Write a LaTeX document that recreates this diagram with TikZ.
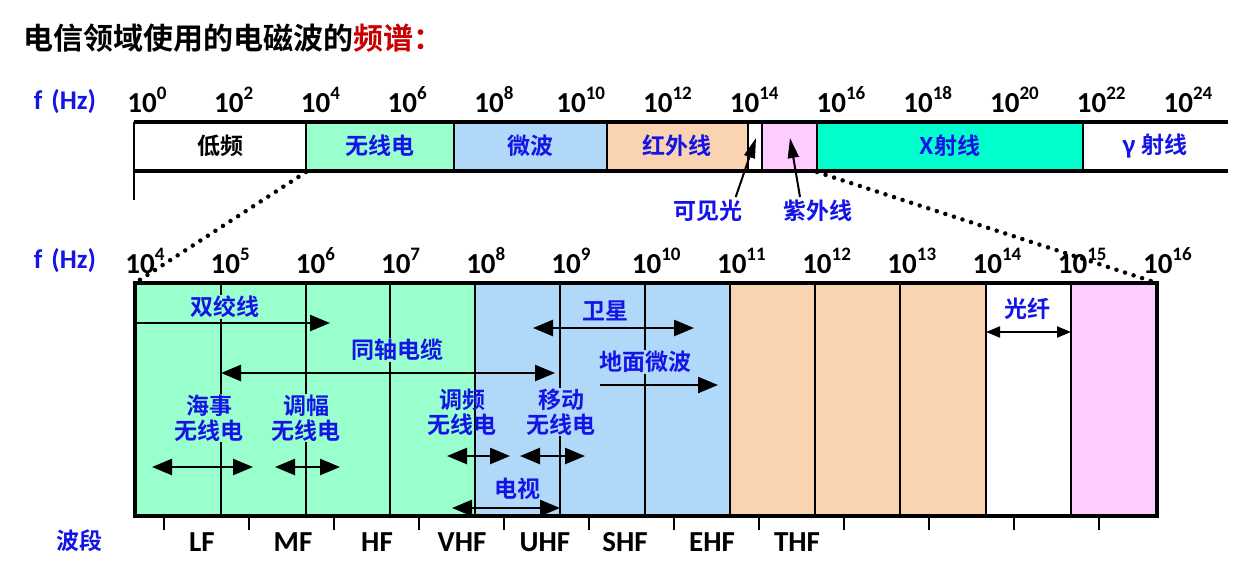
\documentclass[tikz,border=0pt]{standalone}
\usepackage{fontspec}
\setmainfont{Carlito}
\newfontfamily\cjk{Noto Sans CJK SC}[BoldFont={Noto Sans CJK SC Bold}]
\usetikzlibrary{arrows.meta}
\definecolor{cgreen}{RGB}{153,255,204}
\definecolor{cblue}{RGB}{176,216,248}
\definecolor{cpeach}{RGB}{250,212,176}
\definecolor{cpink}{RGB}{255,204,255}
\definecolor{cteal}{RGB}{0,255,204}
\definecolor{tblue}{RGB}{20,20,230}
\definecolor{tred}{RGB}{200,0,0}
\newcommand{\pw}[1]{10\raisebox{0.45em}{\fontsize{19}{19}\selectfont #1}}
\begin{document}
\begin{tikzpicture}[x=1pt,y=-1pt,
  num/.style={font=\fontsize{29}{29}\selectfont\bfseries,inner sep=0pt},
  lab/.style={font=\fontsize{23}{25}\selectfont\cjk\bfseries,text=tblue,inner sep=1pt,align=center},
  lbk/.style={font=\fontsize{23}{25}\selectfont\cjk\bfseries,inner sep=1pt},
  band/.style={font=\fontsize{29}{29}\selectfont\bfseries},
  arr/.style={line width=2.5pt,-{Triangle[length=20pt,width=16pt]}},
  darr/.style={line width=2.5pt,{Triangle[length=20pt,width=16pt]}-{Triangle[length=20pt,width=16pt]}},
  bar/.style={line width=3.5pt}]
\useasboundingbox (0,0) rectangle (1239,571);
\node[anchor=west,font=\fontsize{30}{30}\selectfont\cjk\bfseries] (title) at (20,38) {电信领域使用的电磁波的\textcolor{tred}{频谱：}};
% top bar
\fill[cgreen] (306,122) rectangle (454,171);
\fill[cblue] (454,122) rectangle (607,171);
\fill[cpeach] (607,122) rectangle (748,171);
\fill[cpink] (762,122) rectangle (817,171);
\fill[cteal] (817,122) rectangle (1083,171);
\draw[bar] (134,122) -- (1228,122);
\draw[bar] (134,171) -- (1228,171);
\draw[line width=2.5pt] (134,122) -- (134,200);
\foreach \x in {306,454,607,748,762,817,1083} \draw[line width=2pt] (\x,122) -- (\x,171);
\node[lbk] (lf) at (220,146) {低频};
\node[lab] (radio) at (380,146) {无线电};
\node[lab] (mw) at (530,146) {微波};
\node[lab] (ir) at (677,146) {红外线};
\node[lab] (xr) at (950,146) {X射线};
\node[lab] (gr) at (1155,146) {γ 射线};
\node[font=\fontsize{27}{27}\selectfont\bfseries,text=tblue] (f1) at (65,102) {f\,\,(Hz)};
\foreach \e [count=\i from 0] in {0,2,4,6,8,10,12,14,16,18,20,22,24}
  \node[num] (t\i) at ({147+\i*86.75},100) {\pw{\e}};
\node[lab] (vis) at (708,211) {可见光};
\node[lab] (uv) at (818,211) {紫外线};
\coordinate (visp) at (756,138);
\coordinate (uvp) at (790,138);
\draw[line width=2pt,-{Triangle[length=20pt,width=11pt]}] (vis.north east) ++(-8,-2) coordinate (va) -- (visp);
\draw[line width=2pt,-{Triangle[length=20pt,width=11pt]}] (uv.north) ++(-18,-2) coordinate (ua) -- (uvp);
% zoom dots
\coordinate (z1) at (306,172); \coordinate (z2) at (135,283);
\coordinate (z3) at (817,172); \coordinate (z4) at (1157,283);
\draw[line width=4.5pt,dash pattern=on 0pt off 9pt,line cap=round] (z1) -- (z2);
\draw[line width=4.5pt,dash pattern=on 0pt off 9pt,line cap=round] (z3) -- (z4);
% bottom
\fill[cgreen] (135,283) rectangle (475,516);
\fill[cblue] (475,283) rectangle (730,516);
\fill[cpeach] (730,283) rectangle (986,516);
\fill[cpink] (1071,283) rectangle (1157,516);
\foreach \x in {221,306,390,475,560,645,730,815,900,986,1071} \draw[line width=2.5pt] (\x,283) -- (\x,516);
\draw[line width=3.5pt] (135,283) rectangle (1157,516);
\foreach \x in {164,249,334,419,504,589,674,759,844,929,1014,1099} \draw[line width=2pt] (\x,516) -- (\x,530);
\node[font=\fontsize{27}{27}\selectfont\bfseries,text=tblue] (f2) at (65,261) {f\,\,(Hz)};
\foreach \e [count=\i from 0] in {4,5,6,7,8,9,10,11,12,13,14,15,16}
  \node[num] (b\i) at ({145+\i*85.2},261) {\pw{\e}};
\node[lab] (bd) at (79,541) {波段};
\foreach \t/\x in {LF/202,MF/293,HF/377,VHF/462,UHF/545,SHF/625,EHF/712,THF/797}
  \node[band] (band\t) at (\x,542) {\t};
% labels
\node[lab,fill=cgreen] (sj) at (225,307) {双绞线};
\coordinate (sja) at (135,323); \coordinate (sjb) at (330,323);
\draw[arr] (sja) -- (sjb);
\node[lab,fill=cgreen] (tz) at (397,350) {同轴电缆};
\coordinate (tza) at (221,373); \coordinate (tzb) at (555,373);
\draw[darr] (tza) -- (tzb);
\node[lab,fill=cblue] (wx) at (605,311) {卫星};
\coordinate (wxa) at (533,328); \coordinate (wxb) at (694,328);
\draw[darr] (wxa) -- (wxb);
\node[lab,fill=cblue] (dm) at (645,362) {地面微波};
\coordinate (dma) at (600,385); \coordinate (dmb) at (718,385);
\draw[arr] (dma) -- (dmb);
\node[lab,fill=cgreen] (hs) at (209,418) {海事\\无线电};
\coordinate (hsa) at (152,467); \coordinate (hsb) at (253,467);
\draw[darr] (hsa) -- (hsb);
\node[lab,fill=cgreen] (tf) at (306,418) {调幅\\无线电};
\coordinate (tfa) at (275,467); \coordinate (tfb) at (340,467);
\draw[darr] (tfa) -- (tfb);
\node[lab] (tp) at (462,412) {调频\\无线电};
\coordinate (tpa) at (447,456); \coordinate (tpb) at (510,456);
\draw[darr] (tpa) -- (tpb);
\node[lab,fill=cblue] (yd) at (561,412) {移动\\无线电};
\coordinate (yda) at (520,456); \coordinate (ydb) at (585,456);
\draw[darr] (yda) -- (ydb);
\node[lab,fill=cblue] (ds) at (517,489) {电视};
\coordinate (dsa) at (452,508); \coordinate (dsb) at (560,508);
\draw[darr] (dsa) -- (dsb);
\node[lab] (gx) at (1027,309) {光纤};
\coordinate (gxa) at (986,332); \coordinate (gxb) at (1071,332);
\draw[line width=2pt,{Triangle[length=14pt,width=11pt]}-{Triangle[length=14pt,width=11pt]}] (gxa) -- (gxb);
\end{tikzpicture}
\end{document}
